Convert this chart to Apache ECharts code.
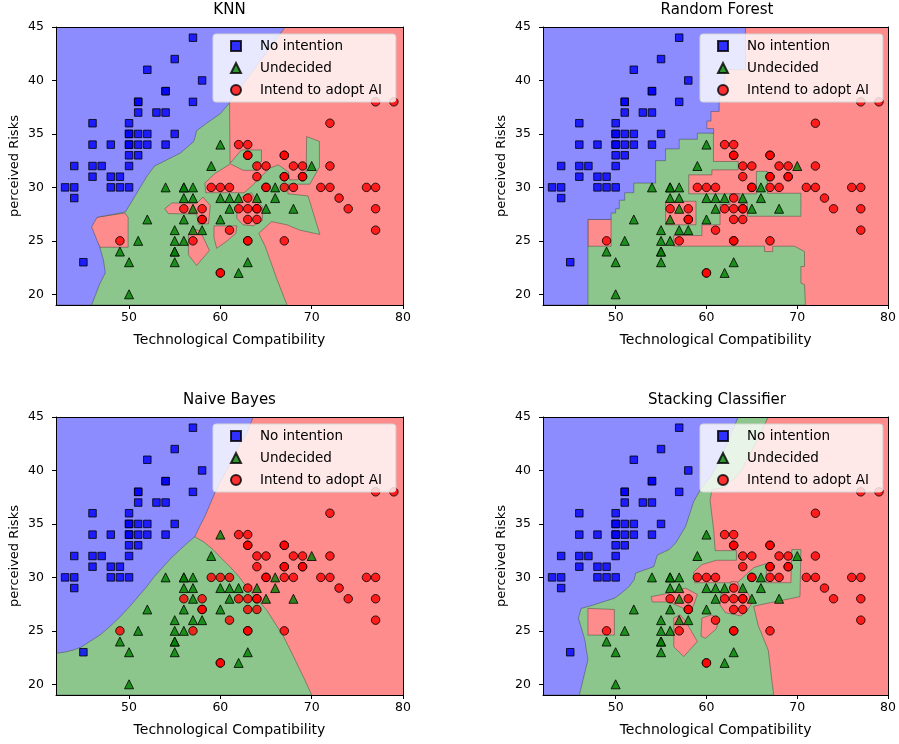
<!DOCTYPE html>
<html><head><meta charset="utf-8">
<script src="https://cdn.jsdelivr.net/npm/echarts@6/dist/echarts.min.js"></script>
<style>html,body{margin:0;padding:0;background:#fff}#c{width:899px;height:744px}</style>
</head><body><div id="c"></div>
<script>
// ---------- data ----------
const classNames = ['No intention', 'Undecided', 'Intend to adopt AI'];
const panelTitles = ['KNN', 'Random Forest', 'Naive Bayes', 'Stacking Classifier'];
const xTicks = [50, 60, 70, 80];
const yTicks = [20, 25, 30, 35, 40, 45];
const xRange = [42, 80];
const yRange = [19, 45];

const noIntention = [[57,44],[55,42],[52,41],[58,40],[54,39],[54,39],[51,38],[51,38],[57,38],[51,37],[53,37],[54,37],
 [46,36],[50,36],[50,35],[50,35],[51,35],[52,35],[55,35],[46,34],[48,34],[50,34],[50,34],[51,34],[52,34],[54,34],
 [50,33],[51,33],[44,32],[46,32],[47,32],[50,32],[46,31],[48,31],[49,31],[43,30],[44,30],[48,30],[49,30],[50,30],
 [44,29],[45,23]];
const undecided = [[60,34],[59,32],[70,32],[54,30],[56,30],[56,30],[57,30],[66,30],[56,29],[57,29],[60,29],[61,29],
 [62,29],[64,29],[66,29],[57,28],[61,28],[65,28],[68,28],[52,27],[56,27],[60,27],[55,26],[57,26],[58,26],[51,25],
 [55,25],[56,25],[49,24],[55,24],[55,24],[50,23],[55,23],[63,23],[62,22],[50,20]];
const intendAdopt = [[77,38],[79,38],[72,36],[62,34],[63,34],[63,33],[63,33],[67,33],[67,33],[64,32],[65,32],[68,32],
 [69,32],[72,32],[64,31],[67,31],[67,31],[69,31],[69,31],[59,30],[60,30],[61,30],[65,30],[65,30],[67,30],[68,30],
 [71,30],[72,30],[76,30],[77,30],[63,29],[73,29],[56,28],[58,28],[62,28],[63,28],[64,28],[64,28],[74,28],[77,28],
 [58,27],[58,27],[63,27],[64,27],[61,26],[77,26],[49,25],[57,25],[63,25],[63,25],[67,25],[60,22],[60,22]];

// decision-region boundaries (data units); class 0 blue, 1 green, 2 red
const fullArea = [[42,19],[80,19],[80,45],[42,45]];

const knnBlue = [[42,45],[67.1,45],[60.9,37.8],[60.0,36.9],[58.5,36.0],[57.4,35.3],[57.1,34.3],[55.6,33.2],[52.8,32.0],
 [52.0,31.1],[49.6,27.7],[46.5,27.2],[45.9,26.3],[46.8,24.4],[47.2,23.2],[47.4,22.0],[46.8,21.0],[45.9,19],[42,19]];
const knnGreen = [[60.4,38.4],[61.0,38.2],[61.06,32.25],[62.3,33.5],[64.5,33.5],[64.5,32.4],[63.8,32.25],[64.0,31.6],
 [62.5,31.6],[61.1,32.2],[59.4,31.3],[58.3,30.4],[58.4,29.5],[62.6,29.5],[63.4,30.1],[65.4,31.8],[66.35,32.1],
 [67.45,31.45],[67.6,30.7],[68.5,30.7],[69.4,31.5],[69.45,34.75],[70.85,34.3],[70.85,31.9],[69.8,30.3],[67.4,30.3],
 [67.4,29.4],[69.6,29.2],[70.9,25.6],[68.7,26.0],[67.3,26.5],[65.6,26.8],[64.2,25.7],[64.9,24.5],[66.2,21.4],
 [67.3,19],[45.5,19],[44,24],[44,27],[50,30.5],[54.5,33],[57,35.3]];
const knnRedA = [[45.6,26.3],[46.45,27.2],[49.55,27.6],[49.9,27.2],[49.9,24.4],[46.8,24.4]];
const knnRedB = [[53.9,28.0],[54.7,28.55],[57.4,28.5],[58.1,29.1],[58.9,28.3],[58.7,26.6],[57.6,26.55],[57.4,27.5],[54.3,27.55]];
const knnRedC = [[56.5,25.6],[57.2,26.1],[57.8,25.9],[58.8,24.1],[57.4,22.7],[56.5,23.7]];
const knnRedD = [[59.3,26.4],[61.8,26.4],[61.7,25.7],[60.6,24.9],[59.6,24.3],[59.3,25.3]];
const knnRedE = [[61.8,28.3],[62.5,29.2],[63.4,29.5],[63.9,28.8],[64.6,28.2],[64.6,26.9],[63.6,26.4],[62.5,26.5],[61.8,27.1]];

const rfBlue = [[42,45],[64.3,45],[64.3,41],[62.0,41],[62.0,38.5],[61.4,38.5],[61.4,37.1],[60.5,37.1],[60.5,36.2],
 [60.05,36.2],[60.05,35.5],[60.8,35.5],[60.8,35.07],[59.0,35.07],[59.0,34.5],[57.0,34.5],[57.0,33.6],[55.5,33.6],
 [55.5,32.5],[54.4,32.5],[54.4,30.4],[52.0,30.4],[52.0,29.5],[51.0,29.5],[51.0,28.8],[50.4,28.8],[50.4,28.0],
 [50.0,28.0],[50.0,27.6],[49.5,27.6],[49.5,27.0],[46.95,27.0],[46.95,19],[42,19]];
const rfGreen = [[44,19],[70.9,19],[70.8,20.9],[70.4,21.05],[70.4,22.6],[70.8,22.6],[70.8,24.0],[69.7,24.5],[67.3,24.5],
 [67.3,24.0],[66.4,24.0],[66.4,24.5],[56.4,24.5],[56.4,25.5],[59.5,25.5],[59.5,26.5],[61.5,26.5],[61.5,28.4],
 [62.6,28.4],[62.6,29.4],[63.6,29.4],[63.6,28.5],[64.5,28.5],[64.5,27.3],[70.4,27.3],[70.4,29.45],[66.7,29.45],
 [66.7,31.5],[65.5,31.5],[65.5,29.4],[58.05,29.4],[58.05,31.17],[60.6,31.17],[60.6,31.64],[63.5,31.64],[63.5,32.42],
 [60.77,32.42],[60.77,35.07],[58.5,35.5],[50,32],[44,27]];
const rfRedA = [[46.95,27.0],[49.5,27.0],[49.5,24.5],[46.95,24.5]];
const rfRedB = [[55.5,28.7],[58.85,28.7],[58.85,26.5],[55.5,26.5]];

const nbBlue = [[42,45],[63.6,45],[62.9,43.5],[62.15,42.5],[61.4,41.2],[60.7,40.05],[60.0,38.9],[59.4,37.9],[58.8,36.7],
 [58.3,35.7],[57.7,34.7],[57.2,33.8],[56.5,33.3],[55.6,32.6],[54.6,31.8],[53.75,31.0],[52.8,30.1],[51.9,29.1],
 [51.0,28.2],[50.1,27.3],[49.0,26.3],[47.9,25.4],[46.8,24.6],[45.7,24.0],[44.8,23.5],[43.9,23.2],[42.9,23.0],[42,22.9]];
const nbGreen = [[42,19],[70,19],[69.2,20.5],[68.35,22.0],[67.6,23.3],[66.9,24.5],[66.0,25.7],[65.1,26.9],[64.0,28.0],
 [62.9,29.1],[62.0,30.1],[61.05,31.0],[60.1,31.8],[59.2,32.6],[58.2,33.3],[57.2,33.8],[42,33.8]];

const stBlue = [[42,45],[63.5,45],[62.5,43],[61.5,41],[60.5,39.5],[59.4,38.3],[58.6,37.1],[57.7,34.75],[56.6,33.2],
 [55.9,32.6],[54.6,32.1],[54.2,31.0],[52.2,30.4],[52.05,29.8],[51.5,29.15],[50.6,28.5],[49.9,28.06],[47.1,27.3],
 [46.2,27.1],[45.9,26.2],[46.6,24.2],[46.95,22.3],[46.0,19],[42,19]];
const stGreen = [[62,45],[66.8,45],[65.3,42.3],[63.7,39.8],[62.0,38.4],[60.6,38.2],[60.4,37.2],[60.8,34.4],[60.96,32.5],
 [63.3,32.5],[63.3,31.6],[61.1,31.6],[59.5,31.2],[58.6,30.5],[58.7,29.5],[63.4,29.5],[64.3,30.2],[65.2,30.9],
 [66.6,31.3],[66.6,29.5],[69.3,29.5],[69.4,32.6],[70.4,32.6],[70.3,28.2],[68.6,27.9],[66.0,27.45],[65.2,27.3],
 [65.7,25.5],[66.8,23.2],[67.4,19],[45.5,19],[44,24],[44,27],[50,30],[55,33.5],[58,37.5],[59.3,38.5]];
const stRedA = [[46.95,27.1],[49.86,27.0],[49.86,24.6],[46.95,24.6]];
const stRedB = [[53.9,28.2],[55.7,28.5],[57.7,29.0],[59.0,28.4],[58.6,27.4],[58.05,26.8],[57.5,27.1],[55.9,27.7],[54.05,27.7]];
const stRedC = [[56.4,26.2],[57.1,26.5],[57.7,25.9],[59.0,24.0],[57.5,22.6],[56.4,23.5]];
const stRedD = [[59.5,26.2],[60.6,26.5],[61.3,25.9],[61.1,25.2],[59.9,24.3],[59.4,24.5]];
const stRedE = [[61.6,28.5],[62.6,28.6],[62.7,29.6],[63.4,29.6],[63.7,29.0],[64.6,28.5],[65.0,27.6],[64.5,26.9],
 [63.8,26.4],[62.1,26.7],[61.5,27.4]];

// ---------- layers per panel (drawing order) ----------
const panelLayers = [
  [[2, fullArea, false], [1, knnGreen, true], [2, knnRedA, true], [2, knnRedB, true], [2, knnRedC, true],
   [2, knnRedD, true], [2, knnRedE, true], [0, knnBlue, true]],
  [[2, fullArea, false], [1, rfGreen, true], [2, rfRedA, true], [2, rfRedB, true], [0, rfBlue, true]],
  [[2, fullArea, false], [1, nbGreen, true], [0, nbBlue, true]],
  [[2, fullArea, false], [1, stGreen, true], [2, stRedA, true], [2, stRedB, true], [2, stRedC, true],
   [2, stRedD, true], [2, stRedE, true], [0, stBlue, true]]
];

const regionFill = ['#8c8cff', '#8cc68c', '#ff8c8c'];
const markerColor = ['#0000ff', '#008000', '#ff0000'];
const markerSymbol = ['rect', 'triangle', 'circle'];
const markerSize = [7.5, 9, 8.5];
const classData = [noIntention, undecided, intendAdopt];

const grids = [
  {left: 56, top: 27, width: 347, height: 278},
  {left: 543, top: 27, width: 348, height: 278},
  {left: 56, top: 417, width: 347, height: 278},
  {left: 543, top: 417, width: 348, height: 278}
];

const FONT = 'DejaVu Sans';
const xAxes = [], yAxes = [], series = [], titles = [], legends = [];

grids.forEach((g, p) => {
  xAxes.push({
    type: 'value', gridIndex: p, min: xRange[0], max: xRange[1], z: 10,
    name: 'Technological Compatibility', nameLocation: 'middle', nameGap: 28,
    nameTextStyle: {fontSize: 14, color: '#000', fontFamily: FONT},
    axisLine: {show: true, onZero: false, lineStyle: {color: '#000', width: 1}},
    axisTick: {show: true, length: 4, customValues: xTicks, lineStyle: {color: '#000'}},
    axisLabel: {customValues: xTicks, fontSize: 12.5, color: '#000', margin: 6, fontFamily: FONT},
    splitLine: {show: false}
  });
  yAxes.push({
    type: 'value', gridIndex: p, min: yRange[0], max: yRange[1], z: 10,
    name: 'perceived Risks', nameLocation: 'middle', nameGap: 35,
    nameTextStyle: {fontSize: 13, color: '#000', fontFamily: FONT},
    axisLine: {show: true, onZero: false, lineStyle: {color: '#000', width: 1}},
    axisTick: {show: true, length: 4, customValues: yTicks, lineStyle: {color: '#000'}},
    axisLabel: {customValues: yTicks, fontSize: 12.5, color: '#000', margin: 12, fontFamily: FONT},
    splitLine: {show: false}
  });
});
grids.forEach((g, p) => {
  xAxes.push({type: 'value', gridIndex: p, position: 'top', min: xRange[0], max: xRange[1], z: 10,
    axisLine: {show: true, onZero: false, lineStyle: {color: '#000', width: 1}},
    axisTick: {show: false}, axisLabel: {show: false}, splitLine: {show: false}});
  yAxes.push({type: 'value', gridIndex: p, position: 'right', min: yRange[0], max: yRange[1], z: 10,
    axisLine: {show: true, onZero: false, lineStyle: {color: '#000', width: 1}},
    axisTick: {show: false}, axisLabel: {show: false}, splitLine: {show: false}});
});

grids.forEach((g, p) => {
  const layers = panelLayers[p];
  series.push({
    type: 'custom', xAxisIndex: p, yAxisIndex: p, silent: true, z: 1, clip: true,
    data: layers.map(() => [61, 32]),
    renderItem: (params, api) => {
      const layer = layers[params.dataIndex];
      const pts = layer[1].map(pt => api.coord(pt));
      return {
        type: 'polygon', shape: {points: pts},
        style: {fill: regionFill[layer[0]], stroke: layer[2] ? 'rgba(60,60,60,0.45)' : null, lineWidth: 1}
      };
    }
  });
  classNames.forEach((name, c) => {
    series.push({
      type: 'scatter', name: name, xAxisIndex: p, yAxisIndex: p, z: 3,
      symbol: markerSymbol[c], symbolSize: markerSize[c], data: classData[c],
      itemStyle: {color: markerColor[c], borderColor: '#000', borderWidth: 1, opacity: 0.8},
      emphasis: {disabled: true}
    });
  });
  titles.push({
    text: panelTitles[p], left: g.left + g.width / 2, top: g.top - 24, textAlign: 'center', padding: 0,
    textStyle: {fontSize: 15, fontWeight: 'normal', color: '#000', fontFamily: FONT}
  });
  legends.push({
    orient: 'vertical', left: g.left + 157, top: g.top + 7,
    data: classNames.map((n, c) => ({name: n, icon: markerSymbol[c]})),
    itemWidth: 10, itemHeight: 10, itemGap: 8, padding: [5, 14, 5, 17],
    backgroundColor: 'rgba(255,255,255,0.8)', borderColor: '#d5d5d5', borderWidth: 1, borderRadius: 3,
    selectedMode: false,
    textStyle: {fontSize: 13.5, color: '#000', fontFamily: FONT, padding: [0, 0, 0, 14]}
  });
});

const chart = echarts.init(document.getElementById('c'), null, {renderer: 'canvas'});
chart.setOption({
  animation: false,
  backgroundColor: '#fff',
  textStyle: {fontFamily: FONT},
  title: titles,
  legend: legends,
  grid: grids,
  xAxis: xAxes,
  yAxis: yAxes,
  series: series
});
</script>
</body></html>
